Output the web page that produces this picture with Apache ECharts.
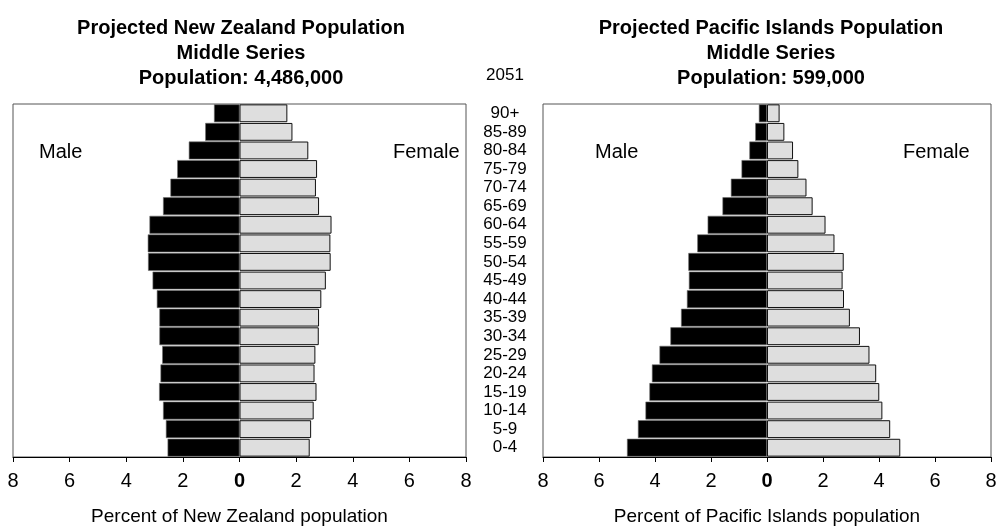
<!DOCTYPE html>
<html>
<head>
<meta charset="utf-8">
<script src="https://cdn.jsdelivr.net/npm/echarts@6/dist/echarts.min.js"></script>
<style>html,body{margin:0;padding:0;background:#fff;}#c{width:996px;height:527px;}</style>
</head>
<body>
<div id="c"></div>
<script>
var categories = ['0-4','5-9','10-14','15-19','20-24','25-29','30-34','35-39','40-44','45-49','50-54','55-59','60-64','65-69','70-74','75-79','80-84','85-89','90+'];
var nzMale   = [2.54,2.60,2.70,2.84,2.79,2.73,2.83,2.83,2.92,3.07,3.23,3.24,3.18,2.70,2.44,2.20,1.79,1.21,0.90];
var nzFemale = [2.48,2.53,2.62,2.72,2.65,2.68,2.80,2.81,2.89,3.05,3.22,3.21,3.25,2.81,2.70,2.74,2.43,1.87,1.69];
var piMale   = [5.00,4.61,4.34,4.20,4.11,3.84,3.45,3.07,2.86,2.79,2.81,2.49,2.12,1.59,1.29,0.91,0.63,0.42,0.29];
var piFemale = [4.76,4.40,4.12,4.01,3.90,3.66,3.32,2.96,2.75,2.70,2.74,2.41,2.09,1.63,1.41,1.12,0.93,0.62,0.45];
var tickValues = [-8,-6,-4,-2,0,2,4,6,8];
var tickLabels = ['8','6','4','2','0','2','4','6','8'];
var titleNZ = ['Projected New Zealand Population','Middle Series','Population: 4,486,000'];
var titlePI = ['Projected Pacific Islands Population','Middle Series','Population: 599,000'];
var yearLabel = '2051';
var axisNameNZ = 'Percent of New Zealand population';
var axisNamePI = 'Percent of Pacific Islands population';

var FONT = 'Liberation Sans, Arial, sans-serif';
var chart = echarts.init(document.getElementById('c'));

function tickFmt(v){
  var i = tickValues.indexOf(v);
  var t = i >= 0 ? tickLabels[i] : String(Math.abs(v));
  return v === 0 ? '{b|' + t + '}' : t;
}
function xAxisFor(idx, name){
  return {
    type: 'value', gridIndex: idx, min: -8, max: 8, interval: 2,
    name: name, nameLocation: 'middle', nameGap: 50,
    nameTextStyle: {fontFamily: FONT, fontSize: 19, color: '#000'},
    axisLine: {show: true, lineStyle: {color: '#000', width: 1}},
    axisTick: {show: true, length: 5, lineStyle: {color: '#000'}},
    splitLine: {show: false},
    axisLabel: {margin: 14, fontFamily: FONT, fontSize: 20, color: '#000', formatter: tickFmt,
      rich: {b: {fontFamily: FONT, fontSize: 20, fontWeight: 'bold', color: '#000'}}}
  };
}
function negate(a){ return a.map(function(v){ return -v; }); }
function barSeries(idx, data, male){
  return {
    type: 'bar', xAxisIndex: idx, yAxisIndex: idx, data: data,
    barGap: '-100%', barCategoryGap: '4%',
    itemStyle: male ? {color: '#000', borderColor: '#6e6e6e', borderWidth: 0.6}
                    : {color: '#dedede', borderColor: '#111', borderWidth: 1},
    silent: true, animation: false
  };
}

chart.setOption({
  animation: false,
  title: [
    {text: titleNZ.join('\n'), left: 236, top: 11, textAlign: 'center',
      textStyle: {fontFamily: FONT, fontSize: 20, fontWeight: 'bold', color: '#000', lineHeight: 25}},
    {text: titlePI.join('\n'), left: 766, top: 11, textAlign: 'center',
      textStyle: {fontFamily: FONT, fontSize: 20, fontWeight: 'bold', color: '#000', lineHeight: 25}},
    {text: yearLabel, left: 500, top: 62, textAlign: 'center',
      textStyle: {fontFamily: FONT, fontSize: 17, fontWeight: 'normal', color: '#000'}}
  ],
  grid: [
    {left: 13, right: 530, top: 104, bottom: 70, show: true, borderColor: '#555', borderWidth: 1,
      backgroundColor: 'transparent', containLabel: false, outerBoundsMode: 'none'},
    {left: 543, right: 5, top: 104, bottom: 70, show: true, borderColor: '#555', borderWidth: 1,
      backgroundColor: 'transparent', containLabel: false, outerBoundsMode: 'none'}
  ],
  xAxis: [xAxisFor(0, axisNameNZ), xAxisFor(1, axisNamePI)],
  yAxis: [
    {type: 'category', gridIndex: 0, data: categories, position: 'right',
      axisLine: {show: false, onZero: false}, axisTick: {show: false},
      axisLabel: {show: true, interval: 0, margin: 39, align: 'center', fontFamily: FONT, fontSize: 17, color: '#000'}},
    {type: 'category', gridIndex: 1, data: categories,
      axisLine: {show: false, onZero: false}, axisTick: {show: false}, axisLabel: {show: false}}
  ],
  graphic: [
    {type: 'text', left: 39, top: 142, style: {text: 'Male', font: '20px ' + FONT, fill: '#000'}},
    {type: 'text', left: 393, top: 142, style: {text: 'Female', font: '20px ' + FONT, fill: '#000'}},
    {type: 'text', left: 595, top: 142, style: {text: 'Male', font: '20px ' + FONT, fill: '#000'}},
    {type: 'text', left: 903, top: 142, style: {text: 'Female', font: '20px ' + FONT, fill: '#000'}}
  ],
  series: [
    barSeries(0, negate(nzMale), true),
    barSeries(0, nzFemale, false),
    barSeries(1, negate(piMale), true),
    barSeries(1, piFemale, false)
  ]
});
</script>
</body>
</html>
